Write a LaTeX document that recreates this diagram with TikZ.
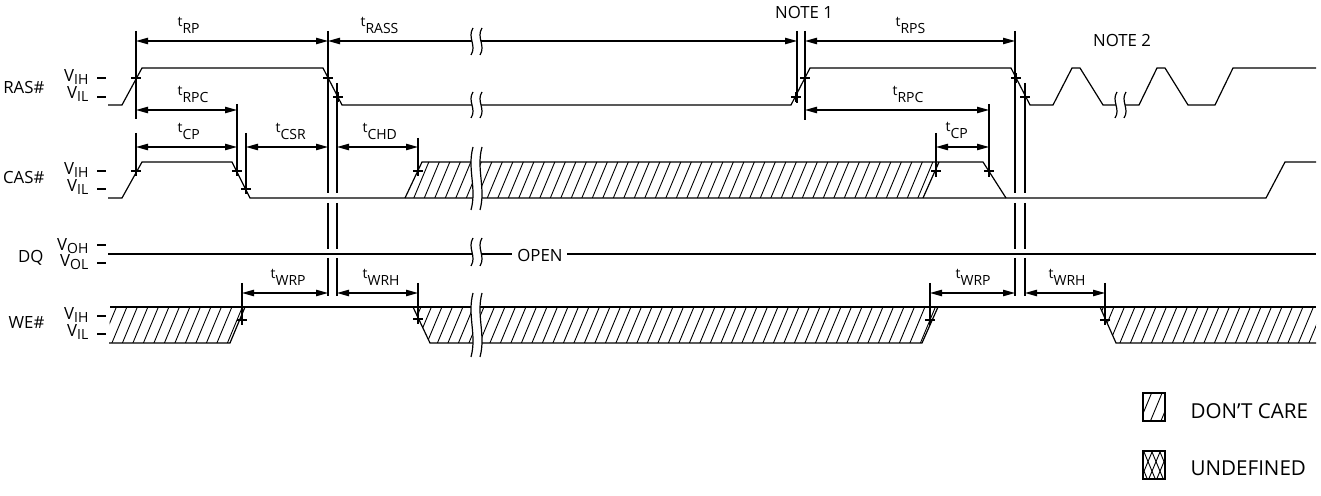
\documentclass[tikz,border=0pt]{standalone}
\usepackage{fontspec}
\setmainfont{Open Sans}
\usetikzlibrary{arrows.meta}

\newcommand{\subf}{\fontsize{7}{8}\selectfont}
\newcommand{\tsub}[1]{\subf t\raisebox{-3.5pt}{#1}}
\newcommand{\vsub}[2]{#1\raisebox{-1.6pt}{\subf #2}}
% small crossing mark
\newcommand{\xmark}[1]{\draw (#1) ++(-5,0) -- ++(10,0) (#1) ++(0,-5) -- ++(0,10);}
% hatching inside a closed path
\newcommand{\hatch}[1]{\begin{scope}\clip #1;
  \foreach \h in {-300,-289.5,...,1330} \draw[line width=0.45pt] (\h,500) -- ++(208.3,-500);
  \end{scope}}
\newcommand{\xhatch}[1]{\begin{scope}\clip #1;
  \foreach \h in {-300,-292,...,1500} \draw[line width=0.45pt] (\h,500) -- ++(208.3,-500) (\h,500) -- ++(-208.3,-500);
  \end{scope}}
% time break: x, top, bottom
\newcommand{\wbreak}[3]{%
  \pgfmathsetmacro{\ba}{#2+0.35*(#3-#2)}%
  \pgfmathsetmacro{\bb}{#3-0.35*(#3-#2)}%
  \fill[white] (#1+2,#2) .. controls (#1-4,\ba) and (#1+6,\bb) .. (#1,#3) -- (#1+9,#3)
    .. controls (#1+15,\bb) and (#1+5,\ba) .. (#1+11,#2) -- cycle;
  \foreach \d in {0,9} \draw (#1+\d+2,#2) .. controls (#1+\d-4,\ba) and (#1+\d+6,\bb) .. (#1+\d,#3);}

\begin{document}
\begin{tikzpicture}[x=0.5pt,y=-0.5pt,line width=0.6pt,
  dim/.style={{Triangle[length=6pt,width=3.2pt]}-{Triangle[length=6pt,width=3.2pt]}},
  tlab/.style={anchor=base west},
  legend/.style={anchor=west,font=\fontsize{10.3}{12}\selectfont}]
\tikzstyle{every node}=[font=\fontsize{8.4}{10}\selectfont,inner sep=0pt]
\useasboundingbox (0,0) rectangle (1321,496);

% signal names and levels
\node[anchor=east] (ras) at (45,88) {RAS\#};
\node[anchor=east] (rasvih) at (89,77) {\vsub{V}{IH}};
\node[anchor=east] (rasvil) at (89,94) {\vsub{V}{IL}};
\node[anchor=east] (cas) at (45,178) {CAS\#};
\node[anchor=east] (casvih) at (89,170) {\vsub{V}{IH}};
\node[anchor=east] (casvil) at (89,187) {\vsub{V}{IL}};
\node[anchor=east] (dq) at (44,258) {DQ};
\node[anchor=east] (dqvoh) at (89,246) {\vsub{V}{OH}};
\node[anchor=east] (dqvol) at (89,262) {\vsub{V}{OL}};
\node[anchor=east] (we) at (45,323) {WE\#};
\node[anchor=east] (wevih) at (89,315) {\vsub{V}{IH}};
\node[anchor=east] (wevil) at (89,332) {\vsub{V}{IL}};
\foreach \y in {78,97,171,189,245,263,316,334} \draw (97,\y) -- (106,\y);

% RAS#
\draw (108,105) -- (122,105) -- (142,68) -- (323,68) -- (342,105) -- (791,105) -- (810,68)
  -- (1011,68) -- (1030,105) -- (1053,105) -- (1072,68) -- (1080,68) -- (1103,105)
  -- (1139,105) -- (1157,68) -- (1165,68) -- (1188,105) -- (1215,105) -- (1233,68) -- (1316,68);

% CAS#
\hatch{(405,198) -- (422,162) -- (939,162) -- (923,198) -- cycle}
\draw (108,198) -- (122,198) -- (142,162) -- (232,162) -- (250,198) -- (1266,198) -- (1285,162) -- (1316,162);
\draw (405,198) -- (422,162) -- (983,162) -- (1006,198);
\draw (923,198) -- (939,162);

% DQ
\draw (108,254) -- (512,254) (567,254) -- (1316,254);
\node (open) at (540,255) {OPEN};

% WE#
\hatch{(110,307) -- (245,307) -- (230,343) -- (109,343) -- cycle}
\hatch{(413,307) -- (938,307) -- (922,343) -- (430,343) -- cycle}
\hatch{(1100,307) -- (1316,307) -- (1316,343) -- (1116,343) -- cycle}
\draw (110,307) -- (1316,307);
\draw (109,343) -- (230,343) -- (245,307);
\draw (413,307) -- (430,343) -- (922,343) -- (938,307);
\draw (1100,307) -- (1116,343) -- (1316,343);

% reference lines
\draw (136,31) -- (136,119) (136,133) -- (136,176);
\draw (237,104) -- (237,176);
\draw (246,133) -- (246,193);
\draw (418,138) -- (418,176) (418,283) -- (418,324);
\draw (242,283) -- (242,325);
\draw (797,31) -- (797,103) (805,31) -- (805,120);
\draw (936,133) -- (936,177) (989,104) -- (989,177);
\draw (930,283) -- (930,325) (1105,283) -- (1105,325);
\foreach \x/\t in {328/31,337/83,1015/31,1025/83}
  \draw (\x,\t) -- (\x,193) (\x,203) -- (\x,249) (\x,258) -- (\x,296);
\foreach \p in {{136,78},{328,78},{338,97},{796,97},{805,78},{1016,78},{1025,97},
  {136,171},{237,171},{246,189},{418,171},{936,171},{989,171},
  {242,320},{418,319},{930,320},{1105,320}} {\xmark{\p}}

% timing arrows
\draw[dim] (136,41) -- (328,41);
\draw[dim] (328,41) -- (797,41);
\draw[dim] (805,41) -- (1015,41);
\draw[dim] (136,110) -- (237,110);
\draw[dim] (805,110) -- (989,110);
\draw[dim] (136,147) -- (237,147);
\draw[dim] (246,147) -- (328,147);
\draw[dim] (337,147) -- (418,147);
\draw[dim] (936,147) -- (989,147);
\draw[dim] (242,293) -- (328,293);
\draw[dim] (337,293) -- (418,293);
\draw[dim] (930,293) -- (1015,293);
\draw[dim] (1025,293) -- (1105,293);

\node[tlab] (trp) at (177,27) {\tsub{RP}};
\node[tlab] (trass) at (360,27) {\tsub{RASS}};
\node[tlab] (trps) at (895,27) {\tsub{RPS}};
\node (note1) at (804,12) {NOTE 1};
\node (note2) at (1122,40) {NOTE 2};
\node[tlab] (trpc) at (177,96) {\tsub{RPC}};
\node[tlab] (trpcb) at (892,96) {\tsub{RPC}};
\node[tlab] (tcp) at (177,133) {\tsub{CP}};
\node[tlab] (tcsr) at (275,133) {\tsub{CSR}};
\node[tlab] (tchd) at (362,133) {\tsub{CHD}};
\node[tlab] (tcpb) at (945,132) {\tsub{CP}};
\node[tlab] (twrp) at (270,279) {\tsub{WRP}};
\node[tlab] (twrh) at (362,279) {\tsub{WRH}};
\node[tlab] (twrpb) at (955,279) {\tsub{WRP}};
\node[tlab] (twrhb) at (1048,279) {\tsub{WRH}};

% breaks
\wbreak{471}{28}{55}
\wbreak{471}{92}{118}
\wbreak{471}{147}{210}
\wbreak{471}{238}{266}
\wbreak{471}{293}{357}
\wbreak{1115}{92}{118}

% legend
\hatch{(1143,393) rectangle (1165,421)}
\draw (1143,393) rectangle (1165,421);
\node[legend] (dontcare) at (1190,411) {DON’T CARE};
\xhatch{(1143,451) rectangle (1165,479)}
\draw (1143,451) rectangle (1165,479);
\node[legend] (undef) at (1190,468) {UNDEFINED};
\end{tikzpicture}
\end{document}
